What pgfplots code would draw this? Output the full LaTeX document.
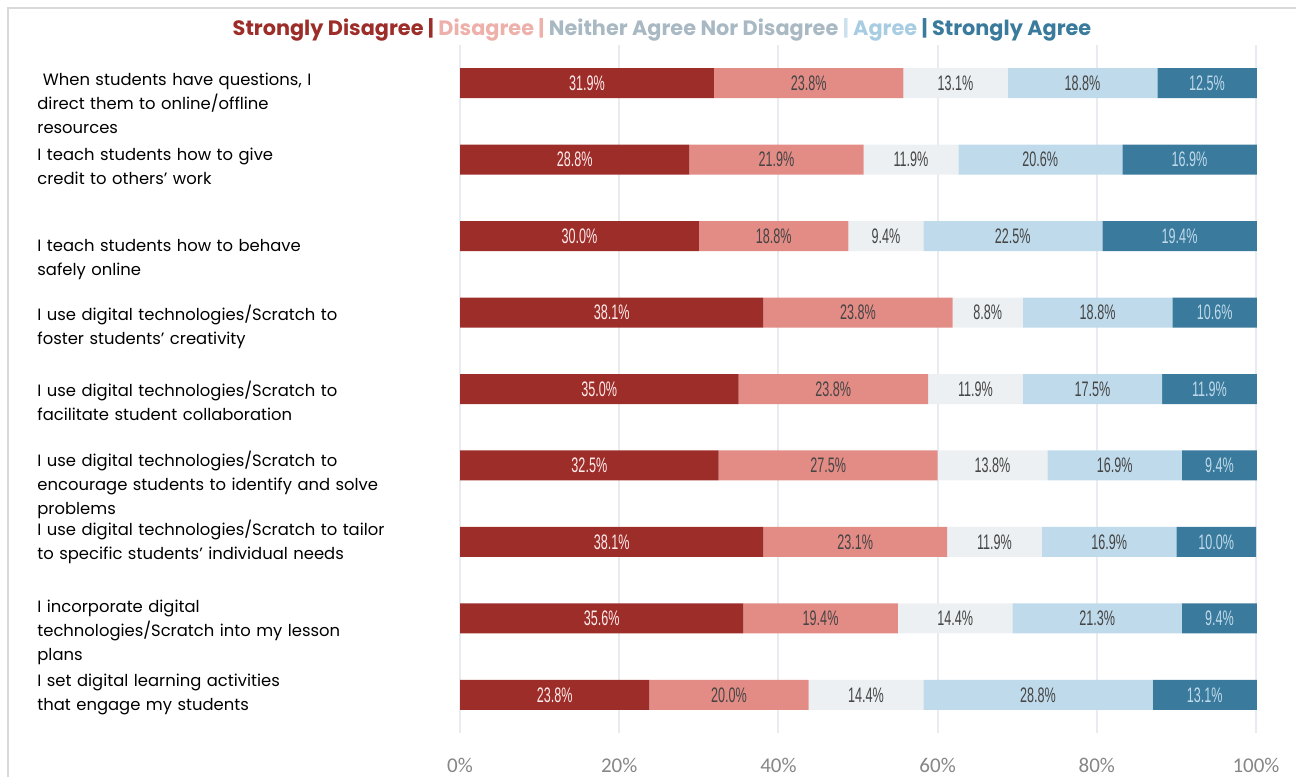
\documentclass[border=0pt]{standalone}
\usepackage{pgfplots}
\usepackage{pgfplotstable}
\usepackage{fontspec}
\pgfplotsset{compat=1.18}
\setmainfont{Poppins}
\newfontfamily\condfont[FakeStretch=0.6]{Liberation Sans}
\newfontfamily\tickfont{Carlito}
\definecolor{csd}{HTML}{9C2D29}
\definecolor{cd}{HTML}{E38B85}
\definecolor{cn}{HTML}{ECF0F3}
\definecolor{ca}{HTML}{BFDAEA}
\definecolor{csa}{HTML}{3A7A9C}
\definecolor{lsd}{HTML}{9C2D29}
\definecolor{ld}{HTML}{EDB0AB}
\definecolor{ln}{HTML}{A9B9C4}
\definecolor{la}{HTML}{A8CDE3}
\definecolor{lsa}{HTML}{3A7A9C}
\definecolor{gridc}{HTML}{E8EBEF}
\definecolor{framec}{HTML}{D9D9D9}
\definecolor{txt}{HTML}{454545}
\pgfplotstableread{
y sd d n a sa
1 31.9 23.8 13.1 18.8 12.5
2 28.8 21.9 11.9 20.6 16.9
3 30.0 18.8 9.4 22.5 19.4
4 38.1 23.8 8.8 18.8 10.6
5 35.0 23.8 11.9 17.5 11.9
6 32.5 27.5 13.8 16.9 9.4
7 38.1 23.1 11.9 16.9 10.0
8 35.6 19.4 14.4 21.3 9.4
9 23.8 20.0 14.4 28.8 13.1
}\data
\begin{document}
\begin{tikzpicture}
\useasboundingbox (0,0) rectangle (648pt,-388.5pt);
\draw[framec, line width=1pt] (4pt,-388.5pt) -- (4pt,-4pt) -- (648pt,-4pt);
\begin{axis}[
  at={(230pt,-366.5pt)}, anchor=south west,
  scale only axis, width=398pt, height=344pt,
  xbar stacked, bar width=15pt,
  xmin=0, xmax=100, ymin=0.5, ymax=9.5, y dir=reverse,
  axis line style={draw=none}, major tick length=0pt,
  ytick=\empty, xtick={0,20,...,100},
  xticklabel={\pgfmathprintnumber[assume math mode=true]{\tick}\%},
  xticklabel style={font=\tickfont\fontsize{10.5}{12}\selectfont, text=gray!95, yshift=-9pt},
  xmajorgrids, grid style={draw=gridc, line width=1pt},
  clip=false,
  visualization depends on={rawx \as \rawx},
  nodes near coords={\pgfmathprintnumber[fixed,fixed zerofill,precision=1,assume math mode=true]{\rawx}\%},
  every node near coord/.style={anchor=center, font=\condfont\fontsize{10.5}{10.5}\selectfont, text=txt},
]
\addplot[fill=csd, draw=none, every node near coord/.append style={text=red!8}] table[x=sd,y=y]{\data};
\addplot[fill=cd, draw=none] table[x=d,y=y]{\data};
\addplot[fill=cn, draw=none] table[x=n,y=y]{\data};
\addplot[fill=ca, draw=none] table[x=a,y=y]{\data};
\addplot[fill=csa, draw=none, every node near coord/.append style={text=ca}] table[x=sa,y=y]{\data};
\end{axis}
\node[font=\bfseries\fontsize{10.4}{12}\selectfont, anchor=center] at (331pt,-15pt) {\textcolor{lsd}{Strongly Disagree |} \textcolor{ld}{Disagree |} \textcolor{ln}{Neither Agree Nor Disagree} \textcolor{la!60}{|} \textcolor{la}{Agree} \textcolor{lsa}{| Strongly Agree}};
\begin{scope}[every node/.style={anchor=base west, text width=220pt, align=left, inner sep=0pt, font=\fontsize{8.2}{12}\selectfont, text=black}]
\node at (18.5pt,-42.5pt) {\ When students have questions, I\\direct them to online/offline\\resources};
\node at (18.5pt,-80pt) {I teach students how to give\\credit to others' work};
\node at (18.5pt,-125.5pt) {I teach students how to behave\\safely online};
\node at (18.5pt,-160pt) {I use digital technologies/Scratch to\\foster students' creativity};
\node at (18.5pt,-198pt) {I use digital technologies/Scratch to\\facilitate student collaboration};
\node at (18.5pt,-233pt) {I use digital technologies/Scratch to\\encourage students to identify and solve\\problems};
\node at (18.5pt,-267.5pt) {I use digital technologies/Scratch to tailor\\to specific students' individual needs};
\node at (18.5pt,-306pt) {I incorporate digital\\technologies/Scratch into my lesson\\plans};
\node at (18.5pt,-343pt) {I set digital learning activities\\that engage my students};
\end{scope}
\end{tikzpicture}
\end{document}
